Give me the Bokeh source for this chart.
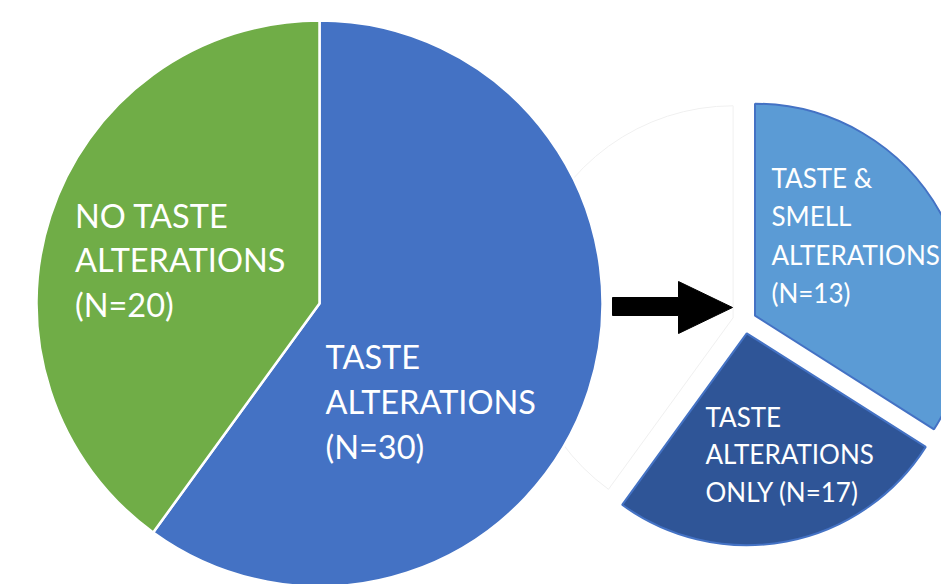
import math
from bokeh.plotting import figure
from bokeh.models import Range1d
from bokeh.core.properties import value
from bokeh.embed import file_html
from bokeh.resources import INLINE

# ---------------- data ----------------
main_categories = ["TASTE ALTERATIONS", "NO TASTE ALTERATIONS"]
main_values = [30, 20]
main_colors = ["#4472C4", "#70AD47"]
main_label_lines = [["TASTE", "ALTERATIONS", "(N=30)"],
                    ["NO TASTE", "ALTERATIONS", "(N=20)"]]

sub_categories = ["TASTE & SMELL ALTERATIONS", "TASTE ALTERATIONS ONLY", "(hidden)"]
sub_n = [13, 17, 20]
# angular shares of the exploded slices as they are drawn in the picture
sub_drawn_values = [17, 13, 20]
sub_colors = ["#5B9BD5", "#2F5597", "white"]
sub_fill_alphas = [1.0, 1.0, 0.0]
sub_line_colors = ["#4472C4", "#4472C4", "#f0f0f0"]
sub_label_lines = [["TASTE &", "SMELL", "ALTERATIONS", "(N=13)"],
                   ["TASTE", "ALTERATIONS", "ONLY (N=17)"],
                   []]

# ---------------- layout ----------------
W, H = 941, 584
def sy(y):
    return H - y

p = figure(width=W, height=H, x_range=Range1d(0, W), y_range=Range1d(0, H),
           output_backend="svg", toolbar_location=None, min_border=0,
           background_fill_color="white", border_fill_color="white")
p.outline_line_color = None
p.axis.visible = False
p.grid.visible = False

def wedges(values):
    tot = float(sum(values))
    out = []
    cum = 0.0
    for v in values:
        t1 = cum / tot * 2 * math.pi
        cum += v
        t2 = cum / tot * 2 * math.pi
        out.append((t1, t2))
    return out

# exploded sub pie (hidden slice drawn first, underneath)
SCX, SCY, SR, OFF = 744, 321, 212, 12
sub_w = wedges(sub_drawn_values)
for i in [2, 0, 1]:
    t1, t2 = sub_w[i]
    tm = (t1 + t2) / 2
    cx = SCX + OFF * math.sin(tm)
    cy = sy(SCY) + OFF * math.cos(tm)
    p.wedge(x=cx, y=cy, radius=SR,
            start_angle=math.pi / 2 - t1, end_angle=math.pi / 2 - t2,
            direction="clock", fill_color=sub_colors[i], fill_alpha=sub_fill_alphas[i],
            line_color=sub_line_colors[i], line_width=2 if sub_fill_alphas[i] > 0 else 1)

# main pie
MCX, MCY, MR = 319, 303, 283
for (t1, t2), col in zip(wedges(main_values), main_colors):
    p.wedge(x=MCX, y=sy(MCY), radius=MR,
            start_angle=math.pi / 2 - t1, end_angle=math.pi / 2 - t2,
            direction="clock", fill_color=col, line_color="white", line_width=2.5)

# arrow
ax = [612, 678, 678, 732, 678, 678, 612]
ay = [297, 297, 281, 307, 333, 315, 315]
p.patch(x=ax, y=[sy(v) for v in ay], fill_color="black", line_color="black", line_width=1)

# labels
def put_lines(lines, x0, base0, step, size):
    xs = [x0] * len(lines)
    ys = [sy(base0 + i * step) for i in range(len(lines))]
    p.text(x=xs, y=ys, text=lines, text_font=value("Lato"), text_font_size=size,
           text_color="white", text_align="left", text_baseline="alphabetic")

put_lines(main_label_lines[0], 325, 356, 45, "32.5px")
put_lines(main_label_lines[1], 74.5, 214.5, 44.5, "32.5px")
put_lines(sub_label_lines[0], 771, 177, 38.5, "26px")
put_lines(sub_label_lines[1], 705, 416, 37.5, "26px")

open("out.html", "w").write(file_html(p, INLINE))
